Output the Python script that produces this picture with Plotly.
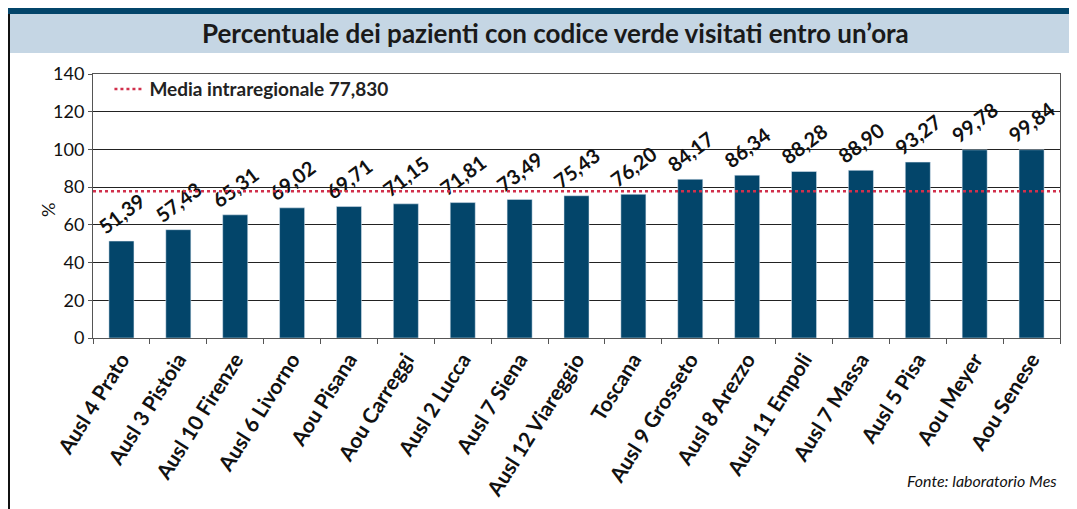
import plotly.graph_objects as go

categories = ["Ausl 4 Prato", "Ausl 3 Pistoia", "Ausl 10 Firenze", "Ausl 6 Livorno",
              "Aou Pisana", "Aou Carreggi", "Ausl 2 Lucca", "Ausl 7 Siena",
              "Ausl 12 Viareggio", "Toscana", "Ausl 9 Grosseto", "Ausl 8 Arezzo",
              "Ausl 11 Empoli", "Ausl 7 Massa", "Ausl 5 Pisa", "Aou Meyer", "Aou Senese"]
values = [51.39, 57.43, 65.31, 69.02, 69.71, 71.15, 71.81, 73.49, 75.43, 76.20,
          84.17, 86.34, 88.28, 88.90, 93.27, 99.78, 99.84]
media = 77.830
y_ticks = [0, 20, 40, 60, 80, 100, 120, 140]

FONT = "Lato"
BAR = "#03456a"
RED = "#d1304c"

# page body has an 8px margin: work in reference pixels, offset by 8
OFF = 8
W, H = 1077 - OFF, 509 - OFF
L, T = 93 - OFF, 74 - OFF
R = W - (1060 - OFF)
B = H - (338 - OFF)
pw, ph = W - L - R, H - T - B
def px(x):
    return (x - OFF - L) / pw
def py(y):
    return (H - B - (y - OFF)) / ph

fig = go.Figure()
fig.add_trace(go.Bar(
    x=categories, y=values, marker_color=BAR, width=0.44,
    texttemplate="%{y:.2f}", textposition="outside", textangle=-37,
    constraintext="none",
    textfont=dict(family=FONT, size=20, color="#111", weight="bold"),
    cliponaxis=False, showlegend=False, hoverinfo="x+y"))

shapes = [
    dict(type="rect", xref="paper", yref="paper", x0=px(8), x1=px(1090), y0=py(14), y1=py(53),
         fillcolor="#c5d6e4", line_width=0, layer="below"),
    dict(type="rect", xref="paper", yref="paper", x0=px(8), x1=px(1090), y0=py(7), y1=py(14),
         fillcolor="#03456a", line_width=0, layer="below"),
    dict(type="line", xref="paper", yref="paper", x0=px(9), x1=px(9), y0=py(14), y1=py(520),
         line=dict(color="#111", width=2)),
    dict(type="line", xref="paper", yref="y", x0=0, x1=1, y0=media, y1=media,
         line=dict(color=RED, width=2.5, dash="dot"), showlegend=True,
         name="Media intraregionale 77,830"),
]
fig.update_layout(shapes=shapes)

fig.add_annotation(text="Percentuale dei pazienti con codice verde visitati entro un’ora",
                   xref="paper", yref="paper", x=px(555), y=py(33), showarrow=False,
                   xanchor="center", yanchor="middle",
                   font=dict(family=FONT, size=26, color="#1a1a1a", weight="bold"))
fig.add_annotation(text="<i>Fonte: laboratorio Mes</i>", xref="paper", yref="paper",
                   x=px(1059), y=py(480), xanchor="right", yanchor="middle", showarrow=False,
                   font=dict(family=FONT, size=16, color="#111"))
fig.add_annotation(text="%", xref="paper", yref="paper", x=px(48), y=py(210),
                   xanchor="center", yanchor="middle", showarrow=False, textangle=-90,
                   font=dict(family=FONT, size=18, color="#111"))

fig.update_layout(
    width=W, height=H, margin=dict(l=L, r=R, t=T, b=B, pad=0, autoexpand=False),
    paper_bgcolor="white", plot_bgcolor="white", separators=",.",
    legend=dict(x=0.017, y=1.015, xanchor="left", yanchor="top", bgcolor="rgba(0,0,0,0)",
                font=dict(family=FONT, size=19, color="#222", weight="bold"),
                itemwidth=30),
    xaxis=dict(tickangle=-58, tickfont=dict(family=FONT, size=21, color="#111", weight="bold"),
               ticks="outside", tickson="boundaries", ticklen=5, tickcolor="#555",
               showline=True, linecolor="#555", linewidth=1, mirror=True, showgrid=False),
    yaxis=dict(range=[0, 140], tickvals=y_ticks, ticks="outside", ticklen=4, tickcolor="#555",
               tickfont=dict(family=FONT, size=18, color="#111"),
               showline=True, linecolor="#555", linewidth=1, mirror=True,
               gridcolor="#222", gridwidth=1, zeroline=False),
)

fig.write_html("out.html")
